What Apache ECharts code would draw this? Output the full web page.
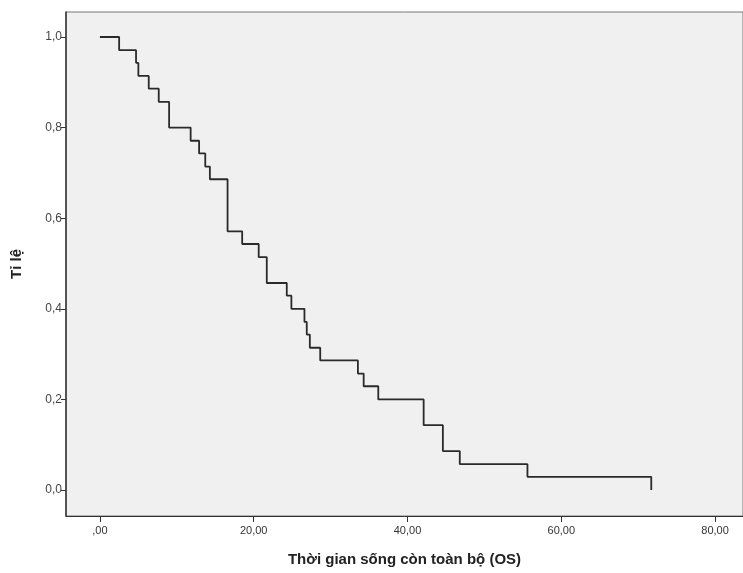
<!DOCTYPE html>
<html>
<head>
<meta charset="utf-8">
<script src="https://cdn.jsdelivr.net/npm/echarts@6/dist/echarts.min.js"></script>
<style>
  html, body { margin: 0; padding: 0; background: #fff; }
  #chart { width: 743px; height: 573px; }
</style>
</head>
<body>
<div id="chart"></div>
<script>
// thoi gian (thang) tai moi buoc giam
const times = [0, 2.5, 4.7, 5.0, 6.35, 7.65, 9.0, 11.8, 12.9, 13.7, 14.3, 16.6, 18.5, 20.65, 21.7,
  24.3, 24.9, 26.6, 26.9, 27.3, 28.65, 33.55, 34.3, 36.2, 42.1, 44.6, 46.8, 55.6, 71.7];
// ti le song con sau moi buoc
const survival = [1.0, 0.971, 0.943, 0.914, 0.886, 0.857, 0.8, 0.771, 0.743, 0.714, 0.686, 0.571, 0.543, 0.514, 0.457,
  0.429, 0.4, 0.371, 0.343, 0.314, 0.286, 0.257, 0.229, 0.2, 0.143, 0.086, 0.057, 0.029, 0.0];

const xTicks = [0, 20, 40, 60, 80];
const yTicks = [0, 0.2, 0.4, 0.6, 0.8, 1.0];

const chart = echarts.init(document.getElementById('chart'));

const fmtX = v => {
  const s = v.toFixed(2).replace('.', ',');
  return s.startsWith('0,') ? s.slice(1) : s;
};
const fmtY = v => v.toFixed(1).replace('.', ',');

const option = {
  animation: false,
  backgroundColor: '#ffffff',
  grid: {
    // right edge of the frame sits just outside the picture
    left: 66, right: -2, top: 12, bottom: 57,
    show: true,
    backgroundColor: '#f0f0f0',
    borderColor: '#777',
    borderWidth: 1
  },
  xAxis: {
    type: 'value',
    min: -4.41, max: 83.63,
    name: 'Thời gian sống còn toàn bộ (OS)',
    nameLocation: 'middle',
    nameGap: 36,
    nameTextStyle: { fontFamily: 'Liberation Sans', fontWeight: 'bold', fontSize: 15, color: '#222' },
    splitLine: { show: false },
    axisLine: { onZero: false, lineStyle: { color: '#333', width: 1 } },
    axisTick: { show: true, length: 6, lineStyle: { color: '#333' }, customValues: xTicks },
    axisLabel: {
      customValues: xTicks,
      formatter: fmtX,
      fontFamily: 'Liberation Sans Narrow, Liberation Sans',
      fontSize: 11, color: '#333', margin: 9
    }
  },
  yAxis: {
    type: 'value',
    min: -0.0574, max: 1.0552,
    name: 'Tỉ lệ',
    nameLocation: 'middle',
    nameGap: 42,
    nameTextStyle: { fontFamily: 'Liberation Sans', fontWeight: 'bold', fontSize: 15, color: '#222' },
    splitLine: { show: false },
    axisLine: { show: true, onZero: false, lineStyle: { color: '#333', width: 1.5 } },
    axisTick: { show: true, length: 5, lineStyle: { color: '#333' }, customValues: yTicks },
    axisLabel: {
      customValues: yTicks,
      formatter: fmtY,
      fontFamily: 'Liberation Sans',
      fontSize: 12, color: '#444', margin: 4
    }
  },
  series: [{
    type: 'line',
    step: 'end',
    data: times.map((t, i) => [t, survival[i]]),
    showSymbol: false,
    lineStyle: { color: '#2a2a2a', width: 1.8 }
  }]
};

chart.setOption(option);
</script>
</body>
</html>
